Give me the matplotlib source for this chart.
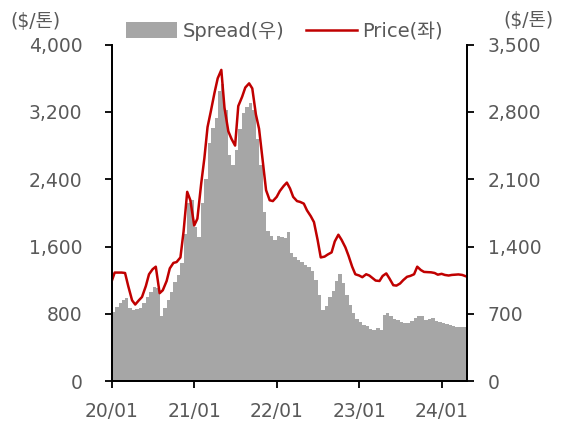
import matplotlib
matplotlib.use('Agg')
import matplotlib.pyplot as plt
import matplotlib.dates as mdates
from matplotlib.patches import Patch
from matplotlib.lines import Line2D
import pandas as pd

plt.rcParams['font.family'] = ['DejaVu Sans', 'Noto Sans CJK KR']

# semi-monthly observations, Jan 2020 .. mid Apr 2024
dates = pd.date_range('2020-01-01', periods=104, freq='SMS')

price = [
    1180, 1290, 1290, 1290, 1285, 1130, 960, 910, 960, 1000,
    1130, 1270, 1330, 1360, 1045, 1080, 1190, 1340, 1405, 1415,
    1470, 1780, 2250, 2150, 1850, 1930, 2350, 2650, 3020, 3200,
    3430, 3600, 3700, 3250, 2970, 2880, 2800, 3270, 3380, 3490,
    3540, 3480, 3170, 3000, 2600, 2270, 2150, 2140, 2190, 2260,
    2320, 2360, 2290, 2190, 2140, 2130, 2110, 2030, 1960, 1890,
    1680, 1470, 1480, 1505, 1530, 1660, 1740, 1680, 1590, 1490,
    1360, 1270, 1255, 1235, 1270, 1255, 1225, 1195, 1190, 1250,
    1280, 1220, 1140, 1135, 1160, 1200, 1240, 1250, 1270, 1360,
    1320, 1298, 1295, 1293, 1285, 1265, 1275, 1262, 1255, 1262,
    1265, 1268, 1262, 1248,
]

spread = [
    720, 770, 810, 840, 865, 760, 740, 745, 760, 815,
    870, 930, 975, 965, 680, 760, 843, 930, 1030, 1100,
    1230, 1530, 1850, 1880, 1600, 1500, 1850, 2100, 2480, 2630,
    2740, 3020, 3090, 2820, 2350, 2250, 2400, 2620, 2790, 2850,
    2890, 2820, 2520, 2250, 1760, 1560, 1505, 1470, 1510, 1500,
    1485, 1550, 1330, 1290, 1260, 1235, 1210, 1185, 1140, 1050,
    900, 740, 780, 870, 940, 1040, 1110, 1020, 900, 790,
    704, 650, 610, 582, 568, 545, 532, 555, 532, 690,
    711, 672, 645, 634, 610, 600, 600, 620, 660, 672,
    676, 640, 650, 660, 628, 615, 606, 595, 582, 575,
    565, 560, 558, 558,
]

left_ticks = [0, 800, 1600, 2400, 3200, 4000]
right_ticks = [0, 700, 1400, 2100, 2800, 3500]
year_ticks = ['2020-01-01', '2021-01-01', '2022-01-01', '2023-01-01', '2024-01-01']

gray = '#a6a6a6'
red = '#c00000'
label_col = '#595959'
fs = 13.5

fig = plt.figure(figsize=(5.66, 4.38), dpi=100)
ax = fig.add_axes([0.197, 0.130, 0.628, 0.768])
ax2 = ax.twinx()

# spread as stepped area on right axis
ext_dates = list(dates) + [dates[-1] + pd.Timedelta(days=16)]
ext_spread = list(spread) + [spread[-1]]
ax2.fill_between(ext_dates, ext_spread, step='post', color=gray, linewidth=0)

# price on left axis, drawn above the area
ax.plot(dates, price, color=red, linewidth=1.8)
ax.set_zorder(ax2.get_zorder() + 1)
ax.patch.set_visible(False)

ax.set_xlim(pd.Timestamp('2020-01-01'), pd.Timestamp('2024-04-22'))
ax.set_ylim(0, 4000)
ax2.set_ylim(0, 3500)

ax.set_yticks(left_ticks)
ax.set_yticklabels([f'{v:,}' for v in left_ticks])
ax2.set_yticks(right_ticks)
ax2.set_yticklabels([f'{v:,}' for v in right_ticks])
ax.set_xticks(pd.to_datetime(year_ticks))
ax.xaxis.set_major_formatter(mdates.DateFormatter('%y/%m'))

for a in (ax, ax2):
    a.spines['top'].set_visible(False)
    for s in a.spines.values():
        s.set_linewidth(1.3)
        s.set_color('black')

ax.tick_params(axis='y', direction='out', length=5, width=1.3, pad=16,
               labelsize=fs, labelcolor=label_col)
ax2.tick_params(axis='y', direction='out', length=5, width=1.3, pad=10,
                labelsize=fs, labelcolor=label_col)
ax.tick_params(axis='x', direction='out', length=5, width=1.3, pad=10,
               labelsize=fs, labelcolor=label_col)

fig.text(0.062, 0.950, '($/톤)', fontsize=fs, color=label_col, ha='center', va='center')
fig.text(0.933, 0.953, '($/톤)', fontsize=fs, color=label_col, ha='center', va='center')

handles = [Patch(facecolor=gray, edgecolor='none', label='Spread(우)'),
           Line2D([0], [0], color=red, linewidth=1.8, label='Price(좌)')]
fig.legend(handles=handles, loc='center', bbox_to_anchor=(0.503, 0.928), ncol=2,
           frameon=False, fontsize=14, labelcolor=label_col, handlelength=2.6,
           handleheight=0.9, handletextpad=0.3, columnspacing=1.1)

fig.savefig('out.png', dpi=100)
